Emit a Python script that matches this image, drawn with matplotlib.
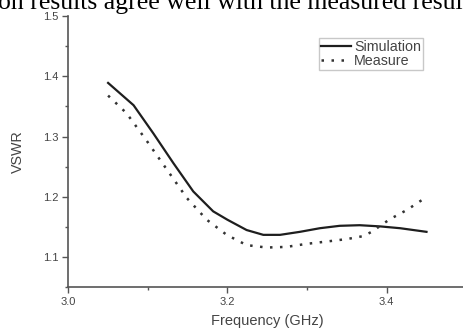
import matplotlib
matplotlib.use("Agg")
import matplotlib.pyplot as plt
from matplotlib.ticker import MultipleLocator

# values
sim_freq = [3.050, 3.082, 3.107, 3.132, 3.157, 3.182, 3.200, 3.224, 3.245, 3.266,
            3.291, 3.316, 3.341, 3.366, 3.392, 3.417, 3.450]
sim_vswr = [1.389, 1.352, 1.305, 1.256, 1.209, 1.176, 1.162, 1.145, 1.137, 1.137,
            1.142, 1.148, 1.152, 1.153, 1.151, 1.148, 1.142]

meas_freq = [3.050, 3.073, 3.098, 3.124, 3.149, 3.174, 3.199, 3.224, 3.249, 3.274,
             3.299, 3.325, 3.350, 3.371, 3.381, 3.392, 3.404, 3.425, 3.448]
meas_vswr = [1.368, 1.339, 1.294, 1.245, 1.198, 1.162, 1.137, 1.120, 1.116, 1.117,
             1.122, 1.126, 1.130, 1.135, 1.142, 1.152, 1.163, 1.178, 1.198]

x_ticks = [3.0, 3.2, 3.4]
y_ticks = [1.1, 1.2, 1.3, 1.4, 1.5]

plt.rcParams['font.family'] = ['Liberation Sans', 'DejaVu Sans']
txt_col = '#444444'

fig = plt.figure(figsize=(4.63, 3.31), dpi=100)
ax = fig.add_axes([0.1475, 0.132, 0.8596, 0.8197])

ax.plot(sim_freq, sim_vswr, color='#1e1e1e', lw=1.6, label='Simulation')
ax.plot(meas_freq, meas_vswr, color='#333333', lw=1.8, linestyle=(0, (1, 3)),
        label='Measure')

ax.set_xlim(3.0, 3.5)
ax.set_ylim(1.05, 1.5)
ax.set_xticks(x_ticks)
ax.set_yticks(y_ticks)
ax.xaxis.set_minor_locator(MultipleLocator(0.1))
ax.yaxis.set_minor_locator(MultipleLocator(0.05))
ax.set_xticklabels([f'{v:.1f}' for v in x_ticks])
ax.set_yticklabels([f'{v:.1f}' for v in y_ticks])

for s in ['top', 'right']:
    ax.spines[s].set_visible(False)
for s in ['left', 'bottom']:
    ax.spines[s].set_color('#555555')
    ax.spines[s].set_linewidth(1.2)
ax.tick_params(which='major', length=4, width=1, color='#555555',
               labelsize=8, labelcolor=txt_col, pad=3)
ax.tick_params(which='minor', length=2.5, width=1, color='#555555')

ax.set_xlabel('Frequency (GHz)', fontsize=10.5, color=txt_col, labelpad=5)
ax.set_ylabel('VSWR', fontsize=10.3, color=txt_col, labelpad=13)

leg = ax.legend(loc='upper right', bbox_to_anchor=(0.891, 0.919), fontsize=10.3,
                frameon=True, fancybox=False, edgecolor='#bbbbbb',
                handlelength=2.1, handletextpad=0.25, borderpad=0.12,
                labelspacing=0.05, borderaxespad=0)
for t in leg.get_texts():
    t.set_color(txt_col)

fig.text(-0.005, 0.972, 'on results agree well with the measured results',
         fontsize=18.5, family=['Liberation Serif', 'DejaVu Serif'],
         ha='left', va='baseline', color='black')

fig.savefig('out.png', dpi=100)
